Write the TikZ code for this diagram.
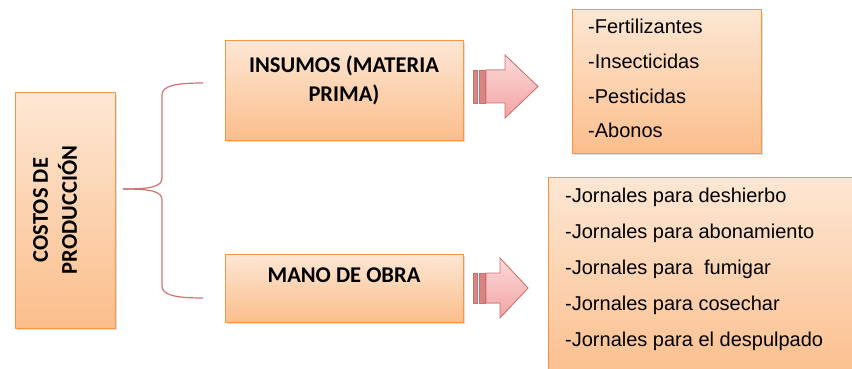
\documentclass[tikz,border=0pt]{standalone}
\usepackage{fontspec}
\setmainfont{Liberation Sans}
\newfontfamily\boxfont{Carlito}
\usetikzlibrary{shadows}

\definecolor{boxlight}{HTML}{FDE7D4}
\definecolor{boxdark}{HTML}{FBBE8C}
\definecolor{boxline}{HTML}{F79646}
\definecolor{arrlight}{HTML}{FCDADA}
\definecolor{arrdark}{HTML}{F3A3A3}
\definecolor{arrline}{HTML}{CF6F6D}
\definecolor{bracecol}{HTML}{CE7472}

\tikzset{
  box/.style={rectangle, draw=boxline, line width=1pt, inner sep=0pt,
    top color=boxlight, bottom color=boxdark,
    drop shadow={shadow xshift=2pt, shadow yshift=-2pt, opacity=0.25}},
  title/.style={font=\boxfont\bfseries\fontsize{22.5}{29}\selectfont,
    align=center, inner sep=0pt, text=black},
  item/.style={font=\fontsize{20}{24}\selectfont, anchor=base west,
    inner sep=0pt, text=black},
  arrowbody/.style={draw=arrline, line width=0.8pt, top color=arrlight,
    bottom color=arrdark, line join=miter},
  stripe/.style={fill=arrline!85, draw=arrline, line width=0.4pt},
  brace/.style={draw=bracecol, line width=1.2pt}
}

\begin{document}
\begin{tikzpicture}[x=1pt, y=-1pt]
  \useasboundingbox (0,0) rectangle (852,369);

  \node (costos) at (65,210.5) [box, rotate=90, minimum width=235, minimum height=100] {};
  \node (insumos) at (344,90.5) [box, minimum width=238, minimum height=99] {};
  \node (mano) at (344,288) [box, minimum width=238, minimum height=68] {};
  \node (fert) at (666.5,81.5) [box, minimum width=189, minimum height=143] {};
  \node (jornal) at (714,279.5) [box, minimum width=332, minimum height=205] {};

  \node (costostext) at (55,210) [title, rotate=90] {COSTOS DE\\PRODUCCIÓN};
  \node (insumostext) at (344,56) [title, anchor=north] {INSUMOS (MATERIA\\PRIMA)};
  \node (manotext) at (344,268) [title, anchor=north] {MANO DE OBRA};

  \foreach \txt [count=\i] in {-Fertilizantes, -Insecticidas, -Pesticidas, -Abonos}
    \node (fert\i) at (588, 34.5*\i - 0.5) [item] {\txt};
  \foreach \txt [count=\i] in {-Jornales para deshierbo, -Jornales para abonamiento,
      -Jornales para\ \ fumigar, -Jornales para cosechar, -Jornales para el despulpado}
    \node (jornal\i) at (565, 166 + 36*\i) [item] {\txt};

  % brace
  \coordinate (bmid) at (123,189);
  \coordinate (btop) at (203,83);
  \coordinate (bbot) at (203,298);
  \draw [brace] (bmid) .. controls (150,189) and (162,187) .. (162,178)
    -- (162,95) .. controls (162,86) and (175,83) .. (btop);
  \draw [brace] (bmid) .. controls (150,189) and (162,191) .. (162,200)
    -- (162,286) .. controls (162,295) and (175,298) .. (bbot);

  % arrows
  \filldraw [arrowbody] (486,70) -- (505,70) -- (505,55) -- (538,86.5) -- (505,118)
    -- (505,103) -- (486,103) -- cycle;
  \filldraw [stripe] (473,70) rectangle (477.5,103);
  \filldraw [stripe] (479.5,70) rectangle (485,103);

  \filldraw [arrowbody] (486,273) -- (500,273) -- (500,258) -- (528,288) -- (500,318)
    -- (500,303) -- (486,303) -- cycle;
  \filldraw [stripe] (473,273) rectangle (477.5,303);
  \filldraw [stripe] (479.5,273) rectangle (485,303);
\end{tikzpicture}
\end{document}
